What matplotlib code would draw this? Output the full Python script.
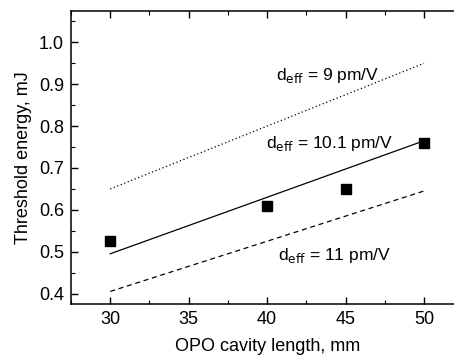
import numpy as np
import matplotlib.pyplot as plt
from matplotlib.ticker import MultipleLocator

plt.rcParams['font.family'] = ['Liberation Sans', 'DejaVu Sans']

# measured thresholds
length_mm = [30, 40, 45, 50]
energy_mJ = [0.525, 0.61, 0.65, 0.76]

# model curves at cavity length 30 and 50 mm
fit_x = [30, 50]
fit_9 = [0.65, 0.95]      # deff = 9 pm/V
fit_101 = [0.495, 0.765]  # deff = 10.1 pm/V
fit_11 = [0.405, 0.645]   # deff = 11 pm/V

fig = plt.figure(figsize=(4.54, 3.58), dpi=100)
ax = fig.add_axes([0.1564, 0.1508, 0.864, 0.8185])

ax.plot(fit_x, fit_9, color='black', linestyle=(0, (1, 2)), linewidth=0.9)
ax.plot(fit_x, fit_101, color='black', linestyle='-', linewidth=0.9)
ax.plot(fit_x, fit_11, color='black', linestyle=(0, (4, 3)), linewidth=0.9)
ax.plot(length_mm, energy_mJ, 's', color='black', markersize=7.2)

ax.text(40.55, 0.92, r'd$_{\mathrm{eff}}$ = 9 pm/V', fontsize=12.5, va='center')
ax.text(39.95, 0.758, r'd$_{\mathrm{eff}}$ = 10.1 pm/V', fontsize=12.5, va='center')
ax.text(40.7, 0.49, r'd$_{\mathrm{eff}}$ = 11 pm/V', fontsize=12.5, va='center')

ax.set_xlim(27.5, 52.5)
ax.set_ylim(0.375, 1.075)
ax.xaxis.set_major_locator(MultipleLocator(5))
ax.xaxis.set_minor_locator(MultipleLocator(2.5))
ax.yaxis.set_major_locator(MultipleLocator(0.1))
ax.yaxis.set_minor_locator(MultipleLocator(0.05))
ax.tick_params(which='both', direction='in', top=True, right=True, labelsize=13)
ax.tick_params(which='major', length=5, width=1, pad=5)
ax.tick_params(which='minor', length=3, width=0.8)
ax.yaxis.set_major_formatter(plt.FuncFormatter(lambda v, p: '%.1f' % v))

ax.set_xlabel('OPO cavity length, mm', fontsize=13, labelpad=7)
ax.set_ylabel('Threshold energy, mJ', fontsize=13, labelpad=5)

for s in ax.spines.values():
    s.set_linewidth(1.1)

fig.savefig('out.png', dpi=100)
